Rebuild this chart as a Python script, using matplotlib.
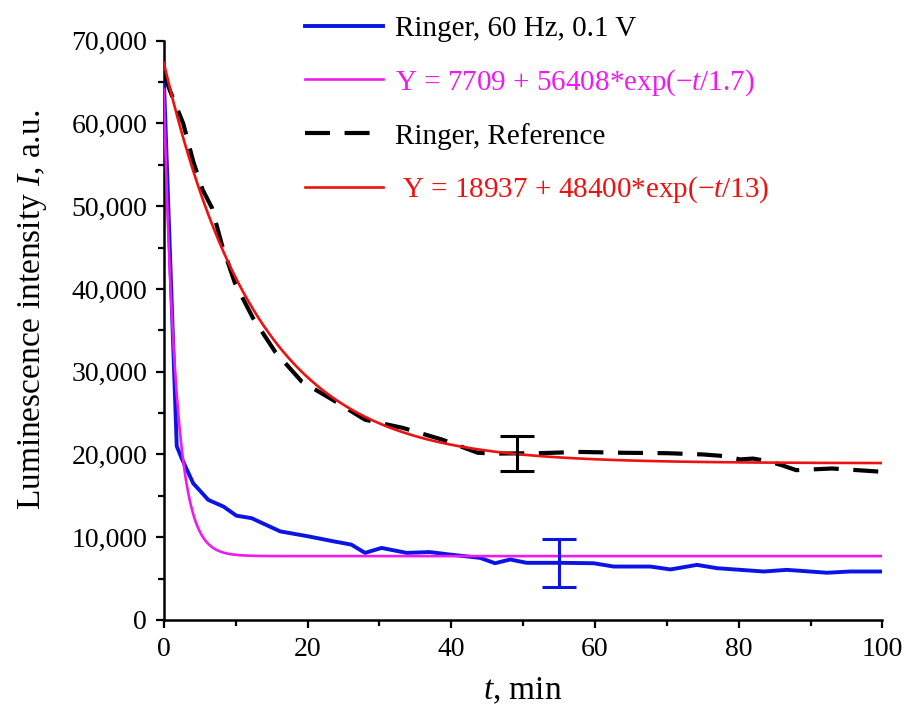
import numpy as np
import matplotlib
matplotlib.use("Agg")
import matplotlib.pyplot as plt
from matplotlib.ticker import MultipleLocator, FuncFormatter

plt.rcParams['font.family'] = ['Liberation Serif', 'DejaVu Serif']
plt.rcParams['mathtext.fontset'] = 'custom'
plt.rcParams['mathtext.rm'] = 'Liberation Serif'
plt.rcParams['mathtext.it'] = 'Liberation Serif:italic'

# Ringer, 60 Hz, 0.1 V
t_60hz = [0, 1.8, 2.5, 4.1, 6.2, 8.3, 10.1, 12.2, 16.2, 20.1, 23.6, 26.1, 28, 30.3,
          33.8, 37, 39.8, 44, 46.1, 48.2, 50.5, 55.2, 59.8, 62.6, 67.7, 70.5, 74.2,
          77, 83.5, 86.7, 92.3, 95.5, 100]
i_60hz = [65500, 21000, 19500, 16500, 14500, 13700, 12600, 12300, 10700, 10100, 9500,
          9100, 8100, 8700, 8100, 8200, 7900, 7500, 6850, 7300, 6900, 6900, 6850, 6450,
          6450, 6100, 6650, 6250, 5850, 6050, 5700, 5850, 5850]

# Ringer, Reference
t_ref = [0, 0.8, 2.7, 4.1, 5.4, 6.7, 8.1, 9.9, 12.4, 15.5, 19.2, 23.5, 28, 33.3, 38.7,
         43.7, 46, 52, 58, 64, 70, 75, 78, 80.2, 82, 84, 86, 88, 93, 100]
i_ref = [66000, 64100, 60000, 55400, 52000, 49800, 45300, 40700, 36500, 32400, 28800,
         26600, 24200, 23200, 21800, 20200, 20100, 20150, 20300, 20200, 20150, 20000,
         19800, 19400, 19500, 19200, 18700, 18100, 18300, 17900]

# fit parameters shown in the legend: offset, amplitude, tau
fit_60hz = (7709, 56408, 1.7)
fit_ref = (18937, 48400, 13)

# error bars: t, value, error
err_60hz = (55, 6900, 2900)
err_ref = (49.2, 20100, 2150)

labels = ["Ringer, 60 Hz, 0.1 V",
          r"Y = 7709 + 56408*exp($-\mathit{t}$/1.7)",
          "Ringer, Reference",
          r" Y = 18937 + 48400*exp($-\mathit{t}$/13)"]

fig = plt.figure(figsize=(9.05, 7.15), dpi=100)
ax = fig.add_axes([0.181, 0.133, 0.794, 0.810])

tt = np.linspace(0, 100, 1001)
l1, = ax.plot(t_60hz, i_60hz, color='#0a14e6', lw=2.8, zorder=3)
l2, = ax.plot(tt, fit_60hz[0] + fit_60hz[1] * np.exp(-tt / fit_60hz[2]),
              color='#f01af0', lw=1.9, zorder=4)
l3, = ax.plot(t_ref, i_ref, color='black', lw=3, dashes=(6, 3.5), zorder=3)
l4, = ax.plot(tt, fit_ref[0] + fit_ref[1] * np.exp(-tt / fit_ref[2]),
              color='#ee1111', lw=1.9, zorder=4)

ax.errorbar([err_60hz[0]], [err_60hz[1]], yerr=[err_60hz[2]], fmt='none',
            ecolor='#0a14e6', elinewidth=2.2, capsize=12, capthick=2.2, zorder=5)
ax.errorbar([err_ref[0]], [err_ref[1]], yerr=[err_ref[2]], fmt='none',
            ecolor='black', elinewidth=2.2, capsize=12, capthick=2.2, zorder=5)

ax.set_xlim(0, 100)
ax.set_ylim(0, 70000)
ax.xaxis.set_major_locator(MultipleLocator(20))
ax.xaxis.set_minor_locator(MultipleLocator(10))
ax.yaxis.set_major_locator(MultipleLocator(10000))
ax.yaxis.set_minor_locator(MultipleLocator(5000))
ax.yaxis.set_major_formatter(FuncFormatter(lambda v, p: f"{int(v):,}"))

for s in ['top', 'right']:
    ax.spines[s].set_visible(False)
for s in ['left', 'bottom']:
    ax.spines[s].set_linewidth(1.8)
ax.tick_params(which='major', direction='out', length=6, width=1.6, labelsize=20, pad=6)
ax.tick_params(which='minor', direction='out', length=4, width=1.6)

ax.set_xlabel(r"$\mathit{t}$, min", fontsize=24, labelpad=10)
ax.set_ylabel(r"Luminescence intensity $\mathit{I}$, a.u.", fontsize=24)
ax.yaxis.set_label_coords(-0.16, 0.535)

leg = ax.legend([l1, l2, l3, l4], labels, loc='upper left',
                bbox_to_anchor=(305 / 905, 1 - 16 / 715), bbox_transform=fig.transFigure,
                frameon=False, fontsize=21, borderpad=0, borderaxespad=0,
                handlelength=2.67, handletextpad=0.4, labelspacing=0.85)
for txt, c in zip(leg.get_texts(), ['black', '#f01af0', 'black', '#ee1111']):
    txt.set_color(c)

fig.savefig("out.png", dpi=100)
